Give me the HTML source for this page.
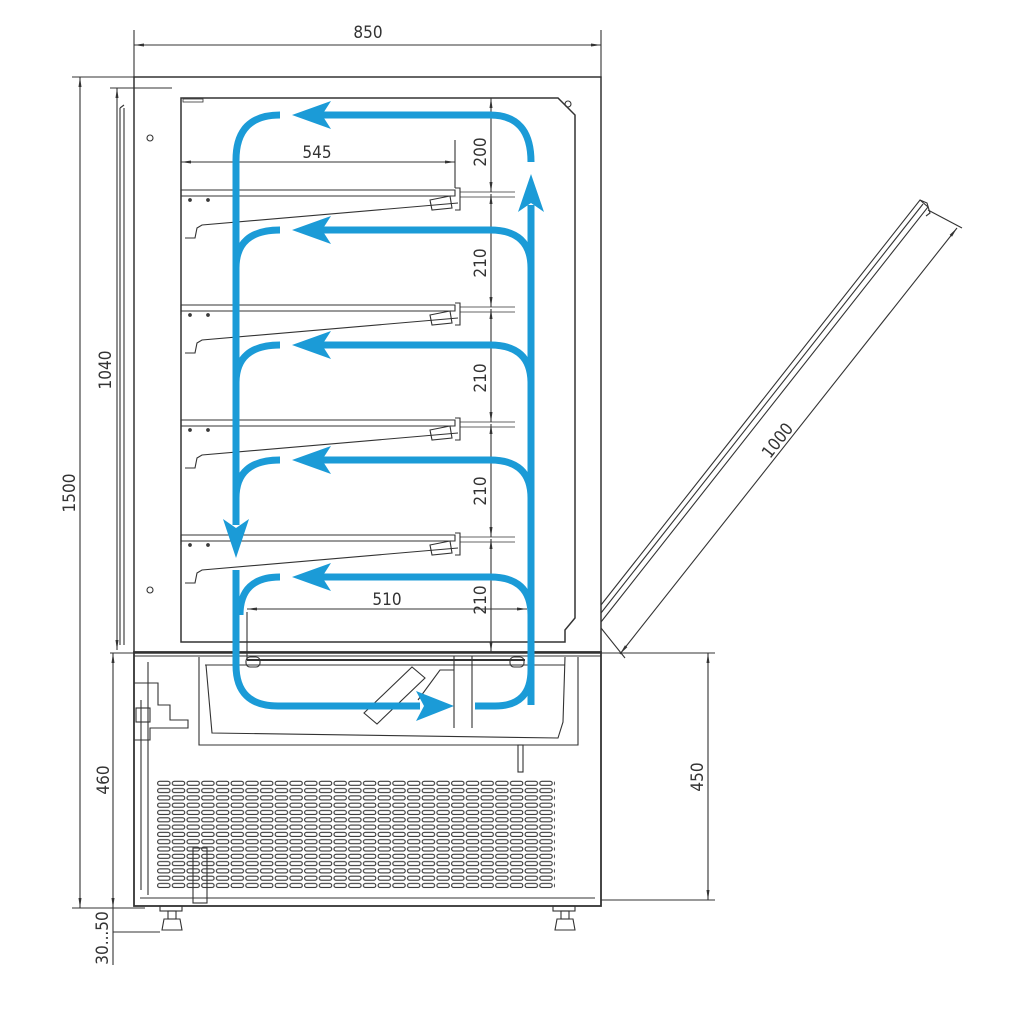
<!DOCTYPE html>
<html><head><meta charset="utf-8"><style>
html,body{margin:0;padding:0;background:#fff;}
svg{display:block}
text{font-family:"DejaVu Sans Condensed","Liberation Sans",sans-serif;fill:#333;font-size:17px}
</style></head><body>
<svg width="1024" height="1024" viewBox="0 0 1024 1024" xmlns="http://www.w3.org/2000/svg">
<defs>
<marker id="a" viewBox="0 0 10 6" refX="10" refY="3" markerWidth="10" markerHeight="6" orient="auto-start-reverse" markerUnits="userSpaceOnUse"><path d="M0,1.5 L10,3 L0,4.5z" fill="#333"/></marker>
<pattern id="g" x="157" y="780" width="14.7" height="7.3" patternUnits="userSpaceOnUse">
<rect x="0.6" y="1.3" width="12.4" height="4" rx="2" fill="none" stroke="#333" stroke-width="1.1"/>
</pattern>
</defs>
<g fill="none" stroke="#333" stroke-width="1.1">
<line x1="134" y1="30" x2="134" y2="78"/><line x1="601" y1="30" x2="601" y2="78"/>
<line x1="134" y1="45" x2="601" y2="45" marker-start="url(#a)" marker-end="url(#a)"/>
<line x1="72" y1="77" x2="134" y2="77"/>
<line x1="80" y1="77" x2="80" y2="908" marker-start="url(#a)" marker-end="url(#a)"/>
<line x1="110" y1="88" x2="172" y2="88"/>
<line x1="117" y1="88" x2="117" y2="650" marker-start="url(#a)" marker-end="url(#a)"/>
<line x1="110" y1="653" x2="140" y2="653"/>
<line x1="113" y1="653" x2="113" y2="908" marker-start="url(#a)" marker-end="url(#a)"/>
<line x1="72" y1="908" x2="145" y2="908"/>
<line x1="113" y1="932" x2="160" y2="932"/>
<line x1="113" y1="908" x2="113" y2="965"/>
<rect x="134" y="77" width="467" height="576" stroke-width="1.5"/>
<path d="M120 108 L120 645 M124 108 L124 645 M120 108 L124 105" />
<path d="M181 98 L558 98 L575 115 L575 618 L565 630 L565 642 L181 642 Z" stroke-width="1.5"/>
<rect x="183" y="99" width="20" height="3" stroke-width="0.8"/>
<circle cx="568" cy="104" r="3"/><circle cx="150" cy="138" r="3"/><circle cx="150" cy="590" r="3"/>
<rect x="134" y="652" width="467" height="254" stroke-width="1.8"/>
<line x1="134" y1="656" x2="601" y2="656"/>
<path d="M148 662 L148 895 M141 700 L141 890" />
<path d="M199 657 L199 745 L578 745 L578 657"/>
<path d="M206 665 L212 733 L558 738 L563 722 L565 657"/>
<line x1="205" y1="665" x2="565" y2="665"/>
<line x1="247" y1="660" x2="525" y2="660" stroke-width="2"/>
<rect x="246" y="657" width="14" height="10" rx="4"/><rect x="510" y="657" width="14" height="10" rx="4"/>
<line x1="454" y1="656" x2="454" y2="728"/><line x1="472" y1="656" x2="472" y2="728"/>
<path d="M364 713 L412 667 L425 678 L377 724 Z"/><path d="M418 700 L440 670 L454 670"/>
<rect x="518" y="745" width="5" height="27"/>
<path d="M134 683 L158 683 L158 705 L170 705 L170 720 L188 720 L188 728 L150 728 L150 740 L134 740" />
<rect x="136" y="708" width="14" height="14"/>
<rect x="157" y="780" width="398" height="110" fill="url(#g)" stroke="none"/>
<rect x="193" y="848" width="14" height="55"/>
<line x1="140" y1="898" x2="595" y2="898"/>
<rect x="160" y="906" width="22" height="5"/><rect x="168" y="911" width="8" height="8"/><path d="M164 919 L180 919 L182 930 L162 930 Z"/>
<rect x="553" y="906" width="22" height="5"/><rect x="561" y="911" width="8" height="8"/><path d="M557 919 L573 919 L575 930 L555 930 Z"/>
<line x1="601" y1="653" x2="715" y2="653"/><line x1="601" y1="900" x2="715" y2="900"/>
<line x1="708" y1="653" x2="708" y2="900" marker-start="url(#a)" marker-end="url(#a)"/>
<path d="M601 605 L920 200 L928 207 L601 622"/><path d="M601 613 L923 204"/>
<path d="M920 200 L927 203 L930 213 L926 216"/>
<line x1="601" y1="628" x2="625" y2="658"/><line x1="928" y1="210" x2="962" y2="228"/>
<line x1="620" y1="654" x2="957" y2="228" marker-start="url(#a)" marker-end="url(#a)"/>
<g id="sh">
<path d="M181 190 L455 190 L455 196 L181 196 M181 190 L181 200 M455 188 L460 188 L460 210 L455 210"/>
<path d="M185 238 L195 238 L197 228 L202 225 L458 203"/>
<path d="M430 200 L450 196 L452 208 L432 210 Z" />
<line x1="460" y1="192" x2="515" y2="192" stroke-width="0.8"/><line x1="460" y1="197" x2="515" y2="197" stroke-width="0.8"/>
<circle cx="190" cy="200" r="1.3" fill="#444"/><circle cx="208" cy="200" r="1.3" fill="#444"/>
</g>
<use href="#sh" y="115"/><use href="#sh" y="230"/><use href="#sh" y="345"/>
<line x1="455" y1="140" x2="455" y2="188"/>
<line x1="181" y1="162" x2="455" y2="162" marker-start="url(#a)" marker-end="url(#a)"/>
<line x1="247" y1="612" x2="247" y2="660"/>
<line x1="247" y1="609" x2="527" y2="609" marker-start="url(#a)" marker-end="url(#a)"/>
<line x1="491" y1="98" x2="491" y2="192" marker-start="url(#a)" marker-end="url(#a)"/>
<line x1="491" y1="194" x2="491" y2="307" marker-start="url(#a)" marker-end="url(#a)"/>
<line x1="491" y1="309" x2="491" y2="422" marker-start="url(#a)" marker-end="url(#a)"/>
<line x1="491" y1="424" x2="491" y2="537" marker-start="url(#a)" marker-end="url(#a)"/>
<line x1="491" y1="539" x2="491" y2="652" marker-start="url(#a)" marker-end="url(#a)"/>
</g>
<g fill="none" stroke="#1b9bd7" stroke-width="7">
<path d="M236 525 V160 Q236 115 280 115"/>
<path d="M322 115 H490 Q531 115 531 162"/>
<path d="M531 205 V705"/>
<path d="M236 268 Q236 230 280 230"/><path d="M322 230 H490 Q531 230 531 268"/>
<path d="M236 383 Q236 345 280 345"/><path d="M322 345 H490 Q531 345 531 383"/>
<path d="M236 498 Q236 460 280 460"/><path d="M322 460 H490 Q531 460 531 498"/>
<path d="M240 615 Q240 577 280 577"/><path d="M322 577 H490 Q531 577 531 615"/>
<path d="M236 570 V665 Q236 706 278 706 H420"/>
<path d="M475 706 H495 Q531 706 531 670"/>
</g>
<g fill="#1b9bd7">
<path d="M292 115 L331 101 L322 115 L331 129 Z"/>
<path d="M292 230 L331 216 L322 230 L331 244 Z"/>
<path d="M292 345 L331 331 L322 345 L331 359 Z"/>
<path d="M292 460 L331 446 L322 460 L331 474 Z"/>
<path d="M292 577 L331 563 L322 577 L331 591 Z"/>
<path d="M531 174 L544 212 L531 203 L518 212 Z"/>
<path d="M236 558 L223 519 L236 528 L249 519 Z"/>
<path d="M454 706 L416 691 L424 706 L416 721 Z"/>
</g>
<text x="368" y="38" text-anchor="middle">850</text>
<text x="317" y="158" text-anchor="middle">545</text>
<text x="387" y="605" text-anchor="middle">510</text>
<text transform="translate(486,152) rotate(-90)" text-anchor="middle">200</text>
<text transform="translate(486,263) rotate(-90)" text-anchor="middle">210</text>
<text transform="translate(486,378) rotate(-90)" text-anchor="middle">210</text>
<text transform="translate(486,491) rotate(-90)" text-anchor="middle">210</text>
<text transform="translate(486,600) rotate(-90)" text-anchor="middle">210</text>
<text transform="translate(75,493) rotate(-90)" text-anchor="middle">1500</text>
<text transform="translate(111,370) rotate(-90)" text-anchor="middle">1040</text>
<text transform="translate(109,780) rotate(-90)" text-anchor="middle">460</text>
<text transform="translate(108,938) rotate(-90)" text-anchor="middle">30...50</text>
<text transform="translate(703,777) rotate(-90)" text-anchor="middle">450</text>
<text transform="translate(782,444) rotate(-52)" text-anchor="middle">1000</text>
</svg>
</body></html>
